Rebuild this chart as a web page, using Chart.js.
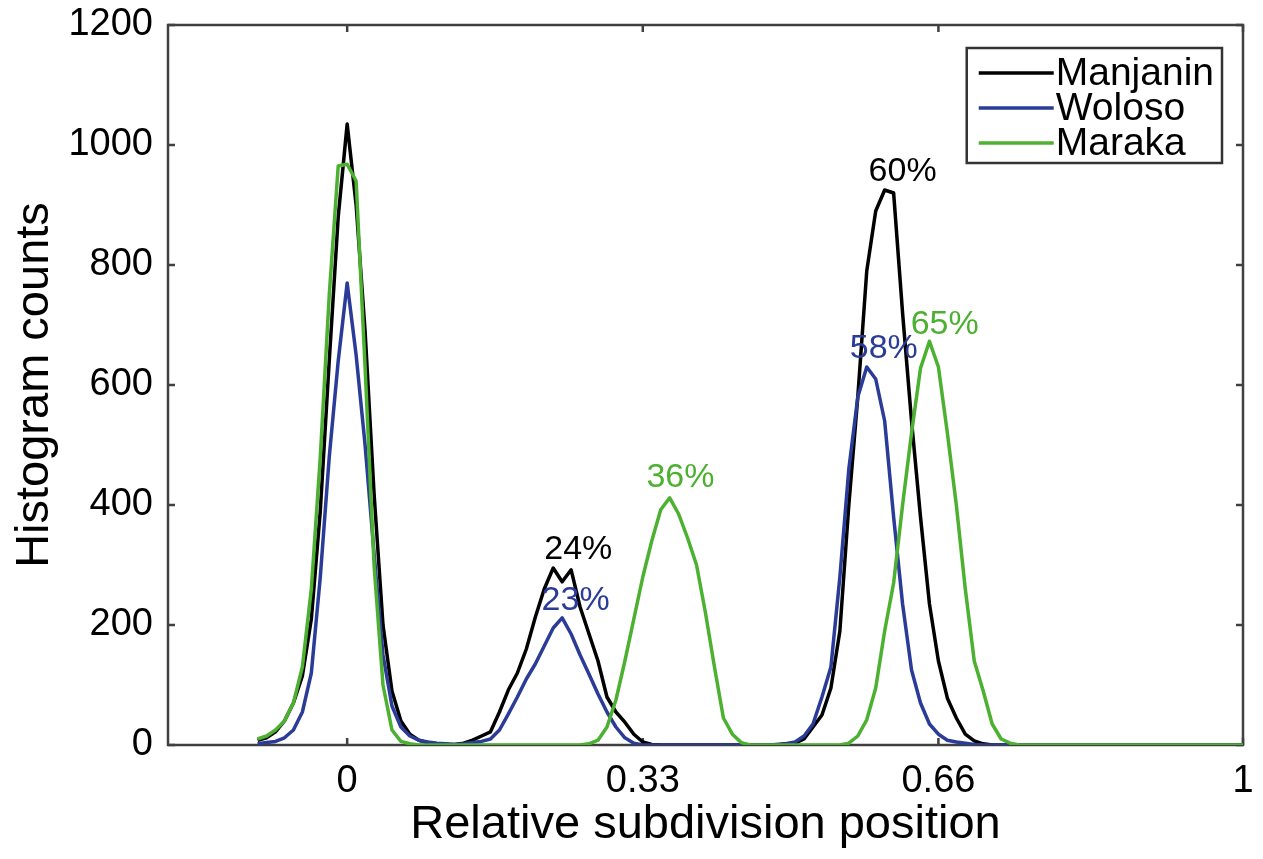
<!DOCTYPE html>
<html>
<head>
<meta charset="utf-8">
<script src="https://cdn.jsdelivr.net/npm/chart.js@4.4.1/dist/chart.umd.min.js"></script>
<style>
  body { margin: 0; background: #fff; }
  canvas { display: block; }
</style>
</head>
<body>
<canvas id="myChart" width="1263" height="859"></canvas>
<script>
// histogram bin centres (relative subdivision position)
let binCentres = [
  -0.10, -0.09, -0.08, -0.07, -0.06, -0.05, -0.04, -0.03, -0.02, -0.01,
  0.00, 0.01, 0.02, 0.03, 0.04, 0.05, 0.06, 0.07, 0.08, 0.09,
  0.10, 0.11, 0.12, 0.13, 0.14, 0.15, 0.16, 0.17, 0.18, 0.19,
  0.20, 0.21, 0.22, 0.23, 0.24, 0.25, 0.26, 0.27, 0.28, 0.29,
  0.30, 0.31, 0.32, 0.33, 0.34, 0.35, 0.36, 0.37, 0.38, 0.39,
  0.40, 0.41, 0.42, 0.43, 0.44, 0.45, 0.46, 0.47, 0.48, 0.49,
  0.50, 0.51, 0.52, 0.53, 0.54, 0.55, 0.56, 0.57, 0.58, 0.59,
  0.60, 0.61, 0.62, 0.63, 0.64, 0.65, 0.66, 0.67, 0.68, 0.69,
  0.70, 0.71, 0.72, 0.73, 0.74, 0.75, 0.76, 0.77, 0.78, 0.79,
  0.80, 0.81, 0.82, 0.83, 0.84, 0.85, 0.86, 0.87, 0.88, 0.89,
  0.90, 0.91, 0.92, 0.93, 0.94, 0.95, 0.96, 0.97, 0.98, 0.99,
  1.00
];

let manjanin = [
  8, 12, 22, 40, 70, 115, 210, 390, 640, 880,
  1035, 900, 690, 420, 200, 90, 40, 18, 8, 4,
  2, 1, 1, 3, 8, 15, 22, 55, 92, 120,
  160, 213, 260, 295, 272, 292, 230, 185, 140, 80,
  55, 38, 18, 5, 1, 0, 0, 0, 0, 0,
  0, 0, 0, 0, 0, 0, 0, 0, 1, 2,
  3, 10, 30, 50, 95, 190, 400, 580, 790, 890,
  925, 920, 720, 540, 380, 235, 140, 78, 45, 18,
  7, 2, 0, 0, 0, 0, 0, 0, 0, 0,
  0, 0, 0, 0, 0, 0, 0, 0, 0, 0,
  0, 0, 0, 0, 0, 0, 0, 0, 0, 0,
  0
];

let woloso = [
  2, 4, 6, 12, 25, 55, 120, 280, 480, 640,
  770, 650, 500, 320, 150, 65, 30, 15, 8, 5,
  3, 2, 1, 2, 4, 6, 10, 25, 52, 80,
  110, 135, 165, 195, 212, 185, 150, 118, 85, 55,
  30, 12, 3, 0, 0, 0, 0, 0, 0, 0,
  0, 0, 0, 0, 0, 0, 0, 0, 0, 2,
  5, 15, 35, 80, 130, 280, 460, 580, 630, 610,
  540, 380, 235, 125, 70, 35, 18, 8, 5, 3,
  1, 0, 0, 0, 0, 0, 0, 0, 0, 0,
  0, 0, 0, 0, 0, 0, 0, 0, 0, 0,
  0, 0, 0, 0, 0, 0, 0, 0, 0, 0,
  0
];

let maraka = [
  10, 15, 25, 40, 70, 130, 260, 480, 750, 965,
  968, 940, 630, 300, 100, 25, 6, 2, 0, 0,
  0, 0, 0, 0, 0, 0, 0, 0, 0, 0,
  0, 0, 0, 0, 0, 0, 0, 2, 8, 30,
  75, 140, 210, 280, 340, 392, 412, 385, 345, 300,
  220, 130, 45, 18, 4, 0, 0, 0, 0, 0,
  0, 0, 0, 0, 0, 0, 3, 15, 42, 95,
  190, 270, 400, 520, 628, 673, 630, 520, 400, 260,
  140, 90, 35, 10, 3, 0, 0, 0, 0, 0,
  0, 0, 0, 0, 0, 0, 0, 0, 0, 0,
  0, 0, 0, 0, 0, 0, 0, 0, 0, 0,
  0
];

let seriesNames = ['Manjanin', 'Woloso', 'Maraka'];
let seriesColors = ['#000000', '#2b3b98', '#4cb031'];

let xTickValues = [0, 0.33, 0.66, 1];
let xTickLabels = ['0', '0.33', '0.66', '1'];

// percentage notes placed over the peaks (data coordinates)
let peakLabels = ['60%', '58%', '65%', '36%', '24%', '23%'];
let peakLabelSeries = [0, 1, 2, 2, 0, 1];
let peakLabelX = [0.62, 0.599, 0.667, 0.372, 0.258, 0.255];
let peakLabelY = [955, 660, 700, 445, 325, 240];

const fontFamily = '"Liberation Sans", Arial, Helvetica, sans-serif';

function toPoints(values) {
    return values.map((v, i) => ({ x: binCentres[i], y: v }));
}

const axesBox = {
    id: 'axesBox',
    beforeDatasetsDraw(chart) {
        const { ctx, chartArea: a, scales } = chart;
        ctx.save();
        ctx.strokeStyle = '#404040';
        ctx.lineWidth = 2.5;
        ctx.strokeRect(a.left, a.top, a.right - a.left, a.bottom - a.top);
        ctx.beginPath();
        xTickValues.forEach(v => {
            const px = scales.x.getPixelForValue(v);
            ctx.moveTo(px, a.bottom);
            ctx.lineTo(px, a.bottom - 7);
            ctx.moveTo(px, a.top);
            ctx.lineTo(px, a.top + 7);
        });
        scales.y.ticks.forEach(t => {
            const py = scales.y.getPixelForValue(t.value);
            ctx.moveTo(a.left, py);
            ctx.lineTo(a.left + 7, py);
            ctx.moveTo(a.right, py);
            ctx.lineTo(a.right - 7, py);
        });
        ctx.stroke();
        ctx.restore();
    },
    afterDatasetsDraw(chart) {
        const { ctx, chartArea: a, scales } = chart;
        ctx.save();
        // peak percentages
        ctx.font = '34px ' + fontFamily;
        ctx.textAlign = 'center';
        ctx.textBaseline = 'middle';
        peakLabels.forEach((txt, i) => {
            ctx.fillStyle = seriesColors[peakLabelSeries[i]];
            ctx.fillText(txt, scales.x.getPixelForValue(peakLabelX[i]), scales.y.getPixelForValue(peakLabelY[i]));
        });

        // legend box, top right inside the axes
        ctx.font = '39px ' + fontFamily;
        let maxText = 0;
        seriesNames.forEach(n => { maxText = Math.max(maxText, ctx.measureText(n).width); });
        const lineLen = 75;
        const boxW = 12 + lineLen + 2 + maxText + 8;
        const boxH = 115;
        const boxX = a.right - 21 - boxW;
        const boxY = a.top + 23;
        ctx.fillStyle = '#fff';
        ctx.fillRect(boxX, boxY, boxW, boxH);
        ctx.strokeStyle = '#333';
        ctx.lineWidth = 2.5;
        ctx.strokeRect(boxX, boxY, boxW, boxH);
        ctx.textAlign = 'left';
        ctx.textBaseline = 'middle';
        seriesNames.forEach((n, i) => {
            const rowY = boxY + 25 + i * 35;
            ctx.strokeStyle = seriesColors[i];
            ctx.lineWidth = 3.5;
            ctx.beginPath();
            ctx.moveTo(boxX + 12, rowY);
            ctx.lineTo(boxX + 12 + lineLen, rowY);
            ctx.stroke();
            ctx.fillStyle = '#000';
            ctx.fillText(n, boxX + 12 + lineLen + 2, rowY + 1);
        });
        ctx.restore();
    }
};

let ctx = document.getElementById('myChart').getContext('2d');
let myChart = new Chart(ctx, {
    type: 'line',
    data: {
        datasets: [
            { label: seriesNames[0], data: toPoints(manjanin), borderColor: seriesColors[0], order: 3 },
            { label: seriesNames[1], data: toPoints(woloso), borderColor: seriesColors[1], order: 2 },
            { label: seriesNames[2], data: toPoints(maraka), borderColor: seriesColors[2], order: 1 }
        ]
    },
    options: {
        responsive: false,
        animation: false,
        devicePixelRatio: 1,
        elements: {
            line: { borderWidth: 3.5, tension: 0, borderJoinStyle: 'round', fill: false },
            point: { radius: 0, hoverRadius: 0 }
        },
        layout: { padding: { top: 25, right: 20, left: 0, bottom: 0 } },
        plugins: {
            legend: { display: false },
            tooltip: { enabled: false }
        },
        scales: {
            x: {
                type: 'linear',
                min: -0.2,
                max: 1,
                grid: { display: false },
                border: { display: false },
                afterBuildTicks: scale => { scale.ticks = xTickValues.map(v => ({ value: v })); },
                afterFit: scale => { scale.height = 114; },
                ticks: {
                    autoSkip: false,
                    maxRotation: 0,
                    padding: 6,
                    color: '#000',
                    font: { family: fontFamily, size: 38 },
                    callback: (value, index) => xTickLabels[index]
                },
                title: {
                    display: true,
                    text: 'Relative subdivision position',
                    color: '#000',
                    font: { family: fontFamily, size: 47 },
                    padding: { top: 0, bottom: 6 }
                }
            },
            y: {
                min: 0,
                max: 1200,
                grid: { display: false },
                border: { display: false },
                afterFit: scale => {
                    scale.width = 168;
                    scale.paddingTop = 0;
                    scale.paddingBottom = 0;
                },
                ticks: {
                    stepSize: 200,
                    padding: 7,
                    color: '#000',
                    font: { family: fontFamily, size: 38 },
                    callback: value => String(value)
                },
                title: {
                    display: true,
                    text: 'Histogram counts',
                    color: '#000',
                    font: { family: fontFamily, size: 47 },
                    padding: { top: 7, bottom: 0 }
                }
            }
        }
    },
    plugins: [axesBox]
});
</script>
</body>
</html>
